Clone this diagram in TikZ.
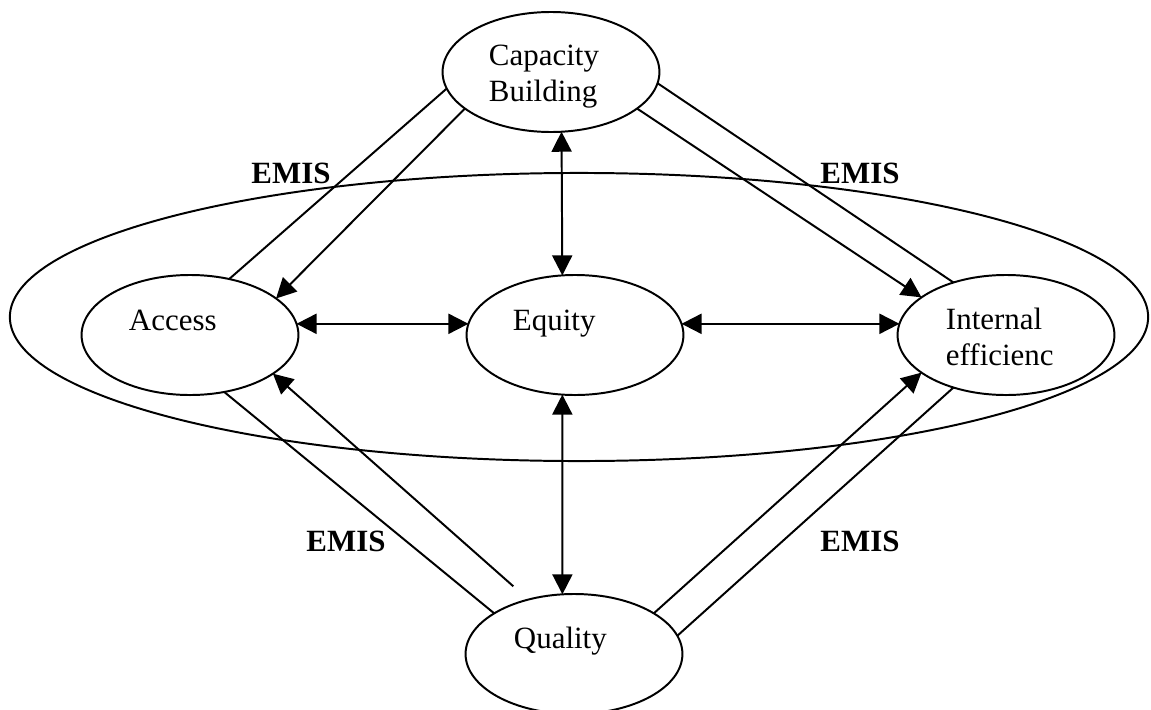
\documentclass[tikz,border=0pt]{standalone}
\usepackage{fontspec}
\setmainfont{Liberation Serif}
\usetikzlibrary{arrows.meta,shapes.geometric}

\newcommand{\bodysize}{\fontsize{22pt}{24.9pt}\selectfont}

\begin{document}
\begin{tikzpicture}[x=0.025cm,y=-0.025cm,line width=1.4pt,
    bubble/.style={draw,ellipse,minimum width=5.42cm,minimum height=3cm,inner sep=0pt,outer sep=0pt},
    txt/.style={inner sep=0pt,anchor=base west,align=left,font=\bodysize},
    emis/.style={inner sep=0pt,anchor=base,font=\bodysize\bfseries}]
\useasboundingbox (0,0) rectangle (1151,710);
\begin{scope}
    % the EMIS loop round the middle row
    \node[draw,ellipse,minimum width=28.45cm,minimum height=7.2cm,inner sep=0pt,outer sep=0pt] (loop) at (579,317) {};
    \node[bubble] (cap) at (551,72) {};
    \node[bubble] (acc) at (190,335) {};
    \node[bubble] (equ) at (575,335) {};
    \node[bubble] (eff) at (1006,335) {};
    \node[bubble] (qual) at (574,654) {};
    % two-line labels sit on the baseline of their last line
    \node[txt] (capT) at (488,101) {Capacity\\Building};
    \node[txt] (accT) at (128,330) {Access};
    \node[txt] (equT) at (512,330) {Equity};
    \node[txt] (effT) at (945,365) {Internal\\efficienc};
    \node[txt] (qualT) at (513,648) {Quality};
    \node[emis] (emisNW) at (291,183) {EMIS};
    \node[emis] (emisNE) at (860,183) {EMIS};
    \node[emis] (emisSW) at (346,551) {EMIS};
    \node[emis] (emisSE) at (860,551) {EMIS};
\end{scope}
\begin{scope}[>={Triangle[length=0.5cm,width=0.5cm]},
              every edge/.style={draw=black,line width=1.4pt}]
    \path [<->] (acc.6) edge (equ.174);
    \path [<->] (equ.6) edge (eff.174);
    \path [<->] (cap.280) edge (equ.102);
    \path [<->] (equ.258) edge (qual.101);
    % EMIS channels: one plain line and one arrow per pair
    \path (cap.189) edge (acc.55);
    \path [->] (cap.203) edge (acc.23);
    \path (cap.354) edge (eff.135);
    \path [->] (cap.337) edge (eff.156);
    \path (acc.301) edge (qual.153);
    \path [->] (qual.130) edge[shorten <=0.5cm] (acc.335);
    \path [->] (qual.27) edge (eff.204);
    \path (qual.10) edge (eff.225);
\end{scope}
\end{tikzpicture}
\end{document}
